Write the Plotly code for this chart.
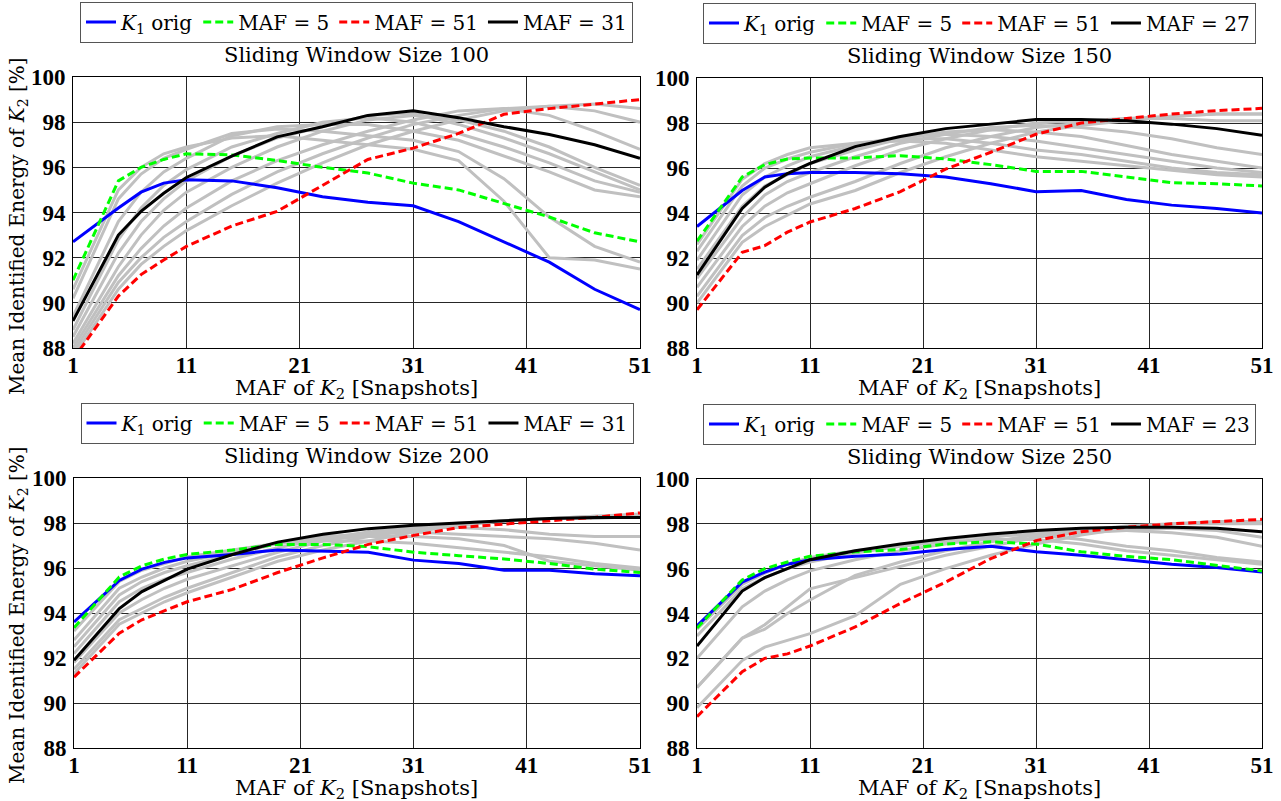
import plotly.graph_objects as go

W, H = 1281, 801

# MAF of K2 sample points
X = [1, 5, 7, 9, 11, 15, 19, 23, 27, 31, 35, 39, 43, 47, 51]

# ---- Sliding window 100 ----
BLUE_100 = [92.7, 94.2, 94.9, 95.3, 95.45, 95.4, 95.1, 94.7, 94.45, 94.3, 93.6, 92.7, 91.8, 90.6, 89.7]
GREEN_100 = [91.0, 95.4, 96.0, 96.35, 96.6, 96.55, 96.3, 96.0, 95.75, 95.3, 95.0, 94.4, 93.8, 93.1, 92.7]
RED_100 = [87.5, 90.3, 91.25, 91.9, 92.5, 93.4, 94.05, 95.2, 96.35, 96.85, 97.5, 98.35, 98.6, 98.8, 99.0]
BLACK_100 = [89.2, 93.0, 94.05, 94.85, 95.55, 96.5, 97.35, 97.8, 98.3, 98.5, 98.2, 97.8, 97.45, 97.0, 96.4]
GRAY_100 = [
    [90.6, 95.0, 96.0, 96.6, 96.9, 97.3, 97.4, 97.2, 97.0, 96.8, 96.3, 94.5, 92.0, 91.9, 91.5],
    [90.2, 94.6, 95.7, 96.4, 96.8, 97.5, 97.7, 97.6, 97.4, 97.2, 96.7, 95.5, 93.8, 92.5, 91.8],
    [89.4, 93.6, 94.9, 95.8, 96.4, 97.4, 97.8, 97.9, 97.9, 97.6, 97.2, 96.5, 95.8, 95.0, 94.7],
    [88.8, 92.8, 94.2, 95.2, 95.9, 96.9, 97.5, 98.0, 98.2, 98.0, 97.5, 96.9, 96.2, 95.4, 94.9],
    [88.5, 92.2, 93.6, 94.6, 95.4, 96.5, 97.3, 97.8, 98.3, 98.4, 97.9, 97.3, 96.6, 95.8, 95.0],
    [88.2, 91.6, 93.0, 94.1, 94.9, 96.0, 96.9, 97.6, 98.1, 98.3, 98.1, 97.6, 96.9, 96.0, 95.2],
    [88.0, 91.2, 92.4, 93.4, 94.2, 95.4, 96.3, 97.0, 97.6, 98.1, 98.5, 98.6, 98.3, 97.6, 96.8],
    [87.8, 90.9, 92.0, 92.9, 93.6, 94.8, 95.8, 96.6, 97.3, 97.9, 98.3, 98.6, 98.7, 98.5, 98.0],
    [87.6, 90.6, 91.7, 92.5, 93.2, 94.3, 95.3, 96.2, 97.0, 97.6, 98.1, 98.5, 98.7, 98.8, 98.6],
]

# ---- Sliding window 150 ----
BLUE_150 = [93.4, 95.0, 95.6, 95.75, 95.8, 95.8, 95.75, 95.6, 95.3, 94.95, 95.0, 94.6, 94.35, 94.2, 94.0]
GREEN_150 = [92.75, 95.6, 96.15, 96.4, 96.45, 96.45, 96.55, 96.4, 96.15, 95.85, 95.85, 95.6, 95.35, 95.3, 95.2]
RED_150 = [89.7, 92.25, 92.55, 93.15, 93.6, 94.2, 94.95, 95.95, 96.7, 97.5, 98.0, 98.2, 98.4, 98.55, 98.65]
BLACK_150 = [91.25, 94.2, 95.15, 95.75, 96.2, 96.95, 97.4, 97.75, 97.95, 98.15, 98.15, 98.1, 97.95, 97.75, 97.45]
GRAY_150 = [
    [92.6, 95.5, 96.2, 96.6, 96.9, 97.1, 97.2, 97.1, 96.8, 96.5, 96.3, 96.1, 95.9, 95.7, 95.6],
    [92.3, 95.2, 96.0, 96.4, 96.7, 97.1, 97.3, 97.3, 97.1, 96.8, 96.6, 96.3, 96.0, 95.8, 95.7],
    [91.9, 94.8, 95.6, 96.1, 96.5, 97.0, 97.4, 97.5, 97.4, 97.2, 96.9, 96.6, 96.3, 96.0, 95.8],
    [91.5, 94.3, 95.2, 95.7, 96.2, 96.8, 97.3, 97.6, 97.7, 97.6, 97.4, 97.0, 96.6, 96.3, 96.0],
    [91.1, 93.8, 94.8, 95.4, 95.8, 96.5, 97.1, 97.5, 97.8, 97.9, 97.8, 97.6, 97.3, 96.9, 96.6],
    [90.7, 93.4, 94.3, 94.9, 95.3, 96.1, 96.8, 97.3, 97.7, 98.0, 98.1, 98.2, 98.2, 98.1, 98.1],
    [90.3, 93.0, 93.8, 94.3, 94.7, 95.4, 96.2, 96.9, 97.4, 97.8, 98.0, 98.2, 98.3, 98.4, 98.4],
    [90.0, 92.7, 93.4, 93.9, 94.4, 95.0, 95.8, 96.5, 97.1, 97.6, 97.9, 98.1, 98.3, 98.4, 98.4],
]

# ---- Sliding window 200 ----
BLUE_200 = [93.6, 95.45, 95.95, 96.25, 96.45, 96.6, 96.8, 96.75, 96.7, 96.35, 96.2, 95.9, 95.9, 95.75, 95.65]
GREEN_200 = [93.35, 95.6, 96.1, 96.4, 96.6, 96.8, 97.05, 97.05, 96.95, 96.7, 96.55, 96.4, 96.2, 95.95, 95.8]
RED_200 = [91.15, 93.1, 93.7, 94.1, 94.5, 95.05, 95.8, 96.45, 97.05, 97.45, 97.8, 97.95, 98.1, 98.25, 98.45]
BLACK_200 = [91.9, 94.2, 94.95, 95.45, 95.95, 96.6, 97.15, 97.5, 97.75, 97.9, 98.0, 98.1, 98.2, 98.25, 98.25]
GRAY_200 = [
    [93.2, 95.4, 95.9, 96.2, 96.5, 96.8, 97.1, 97.2, 97.2, 97.1, 96.9, 96.7, 96.5, 96.2, 96.0],
    [92.8, 95.1, 95.6, 96.0, 96.3, 96.7, 97.1, 97.3, 97.4, 97.4, 97.3, 97.0, 96.3, 96.1, 95.9],
    [92.5, 94.8, 95.4, 95.8, 96.1, 96.6, 97.1, 97.4, 97.5, 97.6, 97.5, 97.4, 97.3, 97.1, 96.8],
    [92.2, 94.5, 95.1, 95.5, 95.8, 96.4, 96.9, 97.3, 97.6, 97.8, 97.8, 97.7, 97.5, 97.4, 97.4],
    [91.8, 94.0, 94.6, 95.1, 95.5, 96.1, 96.7, 97.2, 97.5, 97.8, 98.0, 98.1, 98.2, 98.2, 98.3],
    [91.5, 93.7, 94.2, 94.7, 95.1, 95.8, 96.5, 97.0, 97.4, 97.7, 97.9, 98.1, 98.2, 98.3, 98.3],
    [91.3, 93.5, 94.0, 94.5, 94.9, 95.6, 96.3, 96.8, 97.2, 97.6, 97.9, 98.1, 98.2, 98.3, 98.4],
]

# ---- Sliding window 250 ----
BLUE_250 = [93.45, 95.4, 95.85, 96.2, 96.4, 96.55, 96.65, 96.85, 97.0, 96.75, 96.6, 96.4, 96.2, 96.05, 95.85]
GREEN_250 = [93.35, 95.5, 96.0, 96.3, 96.55, 96.75, 96.85, 97.1, 97.2, 97.1, 96.75, 96.55, 96.4, 96.15, 95.9]
RED_250 = [89.4, 91.4, 92.0, 92.2, 92.55, 93.4, 94.45, 95.4, 96.45, 97.25, 97.65, 97.85, 98.0, 98.1, 98.2]
BLACK_250 = [92.55, 95.0, 95.6, 96.0, 96.4, 96.8, 97.1, 97.35, 97.55, 97.7, 97.8, 97.85, 97.85, 97.8, 97.65]
GRAY_250 = [
    [93.3, 95.3, 95.8, 96.2, 96.5, 96.8, 97.0, 97.2, 97.3, 97.3, 97.1, 96.8, 96.6, 96.4, 96.2],
    [93.0, 95.1, 95.6, 96.0, 96.3, 96.7, 97.0, 97.3, 97.5, 97.5, 97.3, 97.0, 96.8, 96.5, 96.3],
    [92.0, 94.3, 95.0, 95.5, 95.9, 96.4, 96.8, 97.1, 97.4, 97.6, 97.7, 97.7, 97.6, 97.4, 97.0],
    [90.7, 92.9, 93.5, 94.3, 95.1, 95.6, 96.1, 96.6, 97.0, 97.4, 97.6, 97.7, 97.8, 97.7, 97.4],
    [90.7, 92.9, 93.3, 94.0, 94.6, 95.7, 96.3, 96.8, 97.2, 97.5, 97.7, 97.9, 98.0, 98.0, 98.0],
    [89.8, 91.9, 92.5, 92.8, 93.1, 93.9, 95.3, 96.0, 96.6, 97.1, 97.5, 97.8, 98.0, 98.1, 98.1],
]

PANELS = [
    dict(title="Sliding Window Size 100", blue=BLUE_100, green=GREEN_100, red=RED_100, black=BLACK_100, gray=GRAY_100, best="31"),
    dict(title="Sliding Window Size 150", blue=BLUE_150, green=GREEN_150, red=RED_150, black=BLACK_150, gray=GRAY_150, best="27"),
    dict(title="Sliding Window Size 200", blue=BLUE_200, green=GREEN_200, red=RED_200, black=BLACK_200, gray=GRAY_200, best="31"),
    dict(title="Sliding Window Size 250", blue=BLUE_250, green=GREEN_250, red=RED_250, black=BLACK_250, gray=GRAY_250, best="23"),
]

X_TICKS = [1, 11, 21, 31, 41, 51]
Y_TICKS = [88, 90, 92, 94, 96, 98, 100]

# pixel boxes of plot areas: (left, right, top, bottom)
BOXES = [(73, 640, 77, 348), (697, 1262, 78, 348), (74, 640, 478, 748), (697, 1262, 479, 748)]
YTITLE_CENTER = [226, None, 615, None]

SERIF = "DejaVu Serif"
TICKFONT = dict(family="Liberation Sans Narrow", size=23, color="black", weight="bold")

fig = go.Figure()
layout = dict(width=W, height=H, margin=dict(l=0, r=0, t=0, b=0, pad=0, autoexpand=False),
              paper_bgcolor="white", plot_bgcolor="white", showlegend=True)
annotations = []

for i, p in enumerate(PANELS):
    n = "" if i == 0 else str(i + 1)
    xa, ya = "x" + n, "y" + n
    lg = "legend" if i == 0 else "legend" + str(i + 1)
    l, r, t, b = BOXES[i]
    for g in p["gray"]:
        fig.add_trace(go.Scatter(x=X, y=g, mode="lines", line=dict(color="#c0c0c0", width=3),
                                 showlegend=False, xaxis=xa, yaxis=ya, hoverinfo="skip"))
    fig.add_trace(go.Scatter(x=X, y=p["blue"], mode="lines", name="<i>K</i><sub>1</sub> orig",
                             line=dict(color="#0000ff", width=3), xaxis=xa, yaxis=ya, legend=lg))
    fig.add_trace(go.Scatter(x=X, y=p["green"], mode="lines", name="MAF = 5",
                             line=dict(color="#00ff00", width=3, dash="8px,4px"), xaxis=xa, yaxis=ya, legend=lg))
    fig.add_trace(go.Scatter(x=X, y=p["red"], mode="lines", name="MAF = 51",
                             line=dict(color="#ff0000", width=3, dash="8px,4px"), xaxis=xa, yaxis=ya, legend=lg))
    fig.add_trace(go.Scatter(x=X, y=p["black"], mode="lines", name="MAF = " + p["best"],
                             line=dict(color="#000000", width=3), xaxis=xa, yaxis=ya, legend=lg))

    axkey = "xaxis" + n
    aykey = "yaxis" + n
    layout[axkey] = dict(domain=[l / W, r / W], anchor=ya, range=[1, 51], tickvals=X_TICKS,
                         showgrid=True, gridcolor="#262626", gridwidth=1, zeroline=False,
                         showline=True, linecolor="black", linewidth=1, mirror=True, automargin=False,
                         ticks="", tickfont=TICKFONT, ticklabelstandoff=-4)
    layout[aykey] = dict(domain=[1 - b / H, 1 - t / H], anchor=xa, range=[88, 100], tickvals=Y_TICKS,
                         showgrid=True, gridcolor="#262626", gridwidth=1, zeroline=False,
                         showline=True, linecolor="black", linewidth=1, mirror=True, automargin=False,
                         ticks="", tickfont=TICKFONT, ticklabelstandoff=2)
    cx = (l + r) / 2 / W
    layout[lg] = dict(x=cx, xanchor="center", y=1 - (t - 55) / H, yanchor="middle",
                      orientation="h", bgcolor="white", bordercolor="#555555", borderwidth=1,
                      font=dict(family=SERIF, size=20, color="black"), itemwidth=30,
                      tracegroupgap=0)
    annotations.append(dict(text=p["title"], x=cx, y=1 - (t - 22) / H, xref="paper", yref="paper",
                            xanchor="center", yanchor="middle", showarrow=False,
                            font=dict(family=SERIF, size=21, color="black")))
    annotations.append(dict(text="MAF of <i>K</i><sub>2</sub> [Snapshots]", x=cx, y=1 - (b + 41) / H,
                            xref="paper", yref="paper", xanchor="center", yanchor="middle",
                            showarrow=False, font=dict(family=SERIF, size=21, color="black")))
    if YTITLE_CENTER[i] is not None:
        annotations.append(dict(text="Mean Identified Energy of <i>K</i><sub>2</sub> [%]", x=18 / W,
                                y=1 - YTITLE_CENTER[i] / H, xref="paper", yref="paper",
                                xanchor="center", yanchor="middle", textangle=-90, showarrow=False,
                                font=dict(family=SERIF, size=20, color="black")))

layout["annotations"] = annotations
fig.update_layout(**layout)
fig.write_html("out.html")
